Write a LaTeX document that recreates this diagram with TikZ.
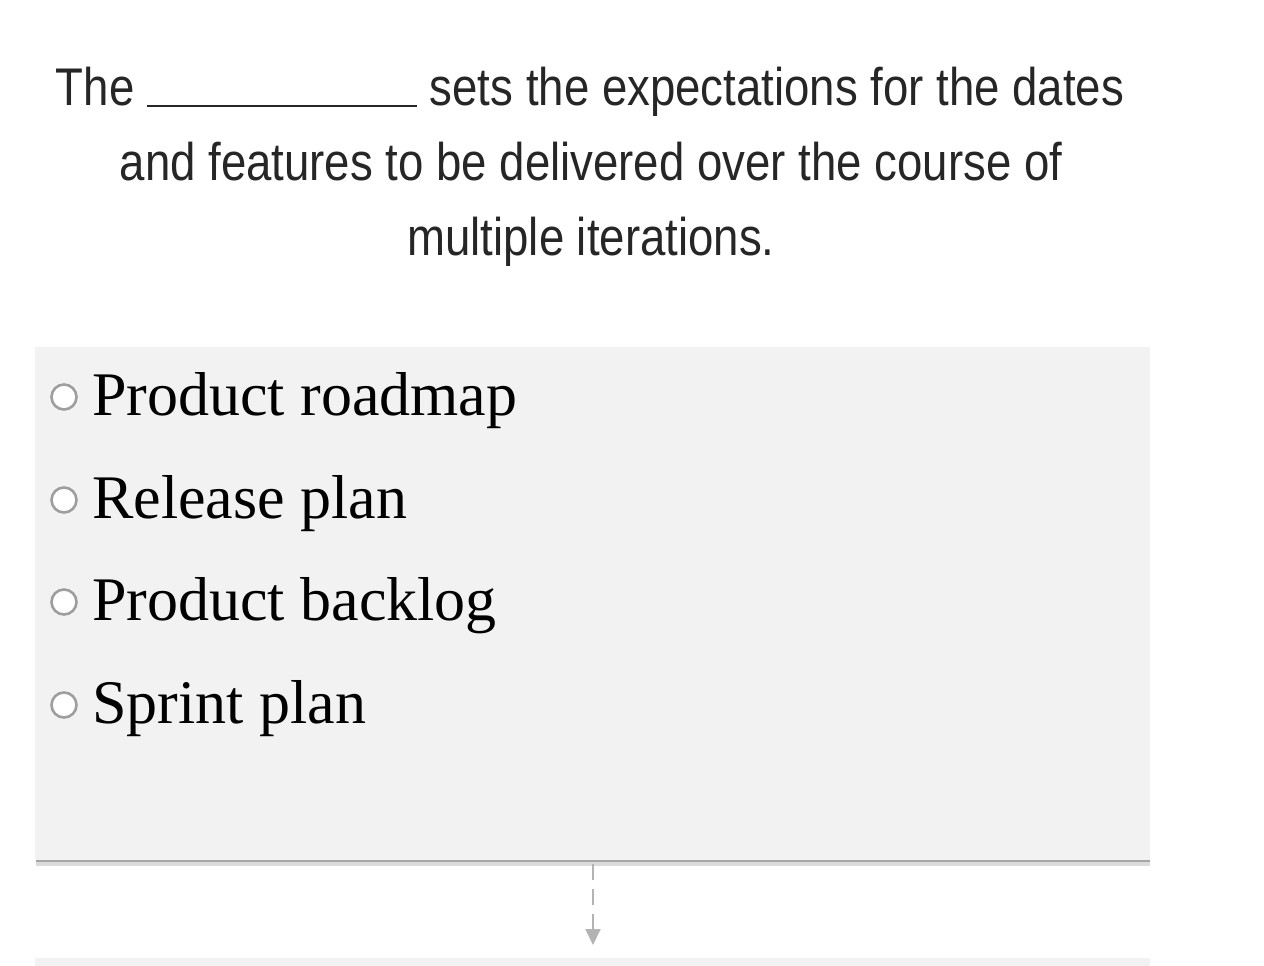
\documentclass[tikz,border=0pt]{standalone}
\usepackage{fontspec}
\setmainfont{Liberation Serif}
\newfontfamily\cond[FakeStretch=0.86]{Liberation Sans}
\definecolor{boxfill}{HTML}{F2F2F2}
\definecolor{shad}{HTML}{A6A6A6}
\definecolor{arr}{HTML}{B3B3B3}
\usetikzlibrary{arrows.meta}
\tikzset{
  titletxt/.style={font=\cond\fontsize{53}{60}\selectfont, text=black!85, inner sep=0pt, anchor=base},
  opttxt/.style={font=\fontsize{62}{68}\selectfont, inner sep=0pt, anchor=base west},
  radio/.style={circle, draw=black!38, line width=2.6pt, fill=white, minimum size=25pt, inner sep=0pt},
  panel/.style={fill=boxfill, draw=none}
}
\begin{document}
\begin{tikzpicture}[x=1pt,y=-1pt]
\useasboundingbox (0,0) rectangle (1264,966);
% panel with shadow
\fill[shad!40] (36,859) rectangle (1150,866);
\fill[shad] (36,858) rectangle (1150,862);
\node[panel, minimum width=1115pt, minimum height=513pt, inner sep=0pt, anchor=north west] (p1) at (35,347) {};
\node[panel, minimum width=1115pt, minimum height=20pt, inner sep=0pt, anchor=north west] (p2) at (35,958) {};
\coordinate (a1) at (593,864);
\coordinate (a2) at (593,945);
\draw[arr, line width=2pt, dash pattern=on 16pt off 9pt, -{Triangle[length=16pt,width=15pt]}] (a1) -- (a2);
% title
\node[titletxt] (t1) at (590,105) {The \rule[-2pt]{270pt}{1.5pt} sets the expectations for the dates};
\node[titletxt] (t2) at (591,180) {and features to be delivered over the course of};
\node[titletxt] (t3) at (591,255) {multiple iterations.};
% options
\foreach \y/\t [count=\i] in {415/Product roadmap,518/Release plan,620/Product backlog,723/Sprint plan}{
  \node[radio] (r\i) at (64,\y-18) {};
  \node[opttxt] (o\i) at (92,\y) {\t};
}
\end{tikzpicture}
\end{document}
